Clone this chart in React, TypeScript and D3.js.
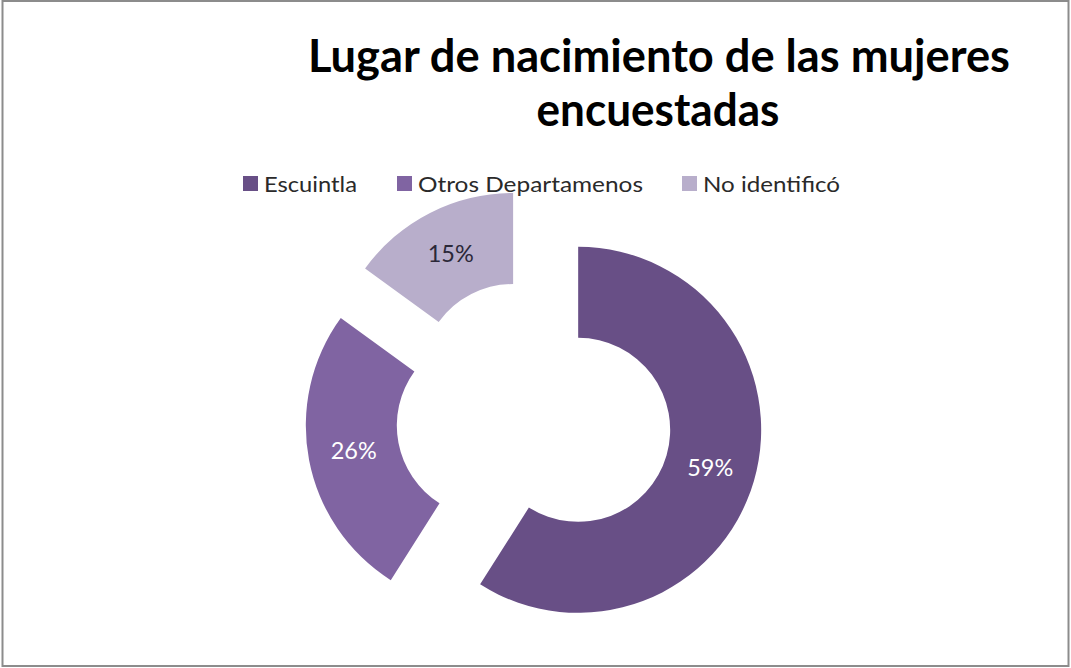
import React from 'react';
import { pie, arc, scaleOrdinal, PieArcDatum } from 'd3';

const categories = ['Escuintla', 'Otros Departamenos', 'No identificó'];
const values = [59, 26, 15];
const colors = ['#684f86', '#8064a2', '#b8aecb'];
const labelColors = ['#ffffff', '#ffffff', '#2b2838'];
const titleLines = ['Lugar de nacimiento de las mujeres', 'encuestadas'];

const W = 1071;
const H = 668;
const cx = 534;
const cy = 417;
const outerR = 183;
const innerR = 92;
const explode = 46;
const font = 'Lato, "Open Sans", sans-serif';

// legend slots: x of square and measured text width
const legendX = [243, 397, 682];
const legendW = [93, 225, 137];

type Row = { name: string; value: number; color: string };

export default function App() {
  const rows: Row[] = categories.map((name, i) => ({ name, value: values[i], color: colors[i] }));
  const color = scaleOrdinal<string, string>().domain(categories).range(colors);

  const arcs = pie<Row>().sort(null).value(d => d.value)(rows);
  const ring = arc<PieArcDatum<Row>>().innerRadius(innerR).outerRadius(outerR);

  const shift = (d: PieArcDatum<Row>) => {
    const mid = (d.startAngle + d.endAngle) / 2;
    return [Math.sin(mid) * explode, -Math.cos(mid) * explode];
  };

  return (
    <svg width={W} height={H} style={{ position: 'absolute', left: 0, top: 0, background: '#fff' }}>
      <rect x={2.5} y={1} width={1066} height={665} fill="#fff" stroke="#8c8c8c" strokeWidth={2} />

      <g fontFamily={font} fontWeight="bold" fontSize={46} fill="#000" textAnchor="middle">
        <text x={659} y={72} textLength={702} lengthAdjust="spacingAndGlyphs">{titleLines[0]}</text>
        <text x={658} y={126} textLength={243} lengthAdjust="spacingAndGlyphs">{titleLines[1]}</text>
      </g>

      <g fontFamily={font} fontSize={21} fill="#2a2a2a">
        {categories.map((c, i) => (
          <g key={c}>
            <rect x={legendX[i]} y={176} width={15} height={15} fill={color(c)} />
            <text x={legendX[i] + 21} y={192} textLength={legendW[i]} lengthAdjust="spacingAndGlyphs">{c}</text>
          </g>
        ))}
      </g>

      <g transform={`translate(${cx},${cy})`}>
        {arcs.map((d, i) => {
          const [dx, dy] = shift(d);
          const [lx, ly] = ring.centroid(d);
          return (
            <g key={d.data.name} transform={`translate(${dx},${dy})`}>
              <path d={ring(d) || ''} fill={color(d.data.name)} />
              <text x={lx} y={ly} dy="0.35em" textAnchor="middle" fontFamily={font} fontSize={23}
                textLength={46} lengthAdjust="spacingAndGlyphs"
                fill={labelColors[i]}>{`${d.data.value}%`}</text>
            </g>
          );
        })}
      </g>
    </svg>
  );
}
